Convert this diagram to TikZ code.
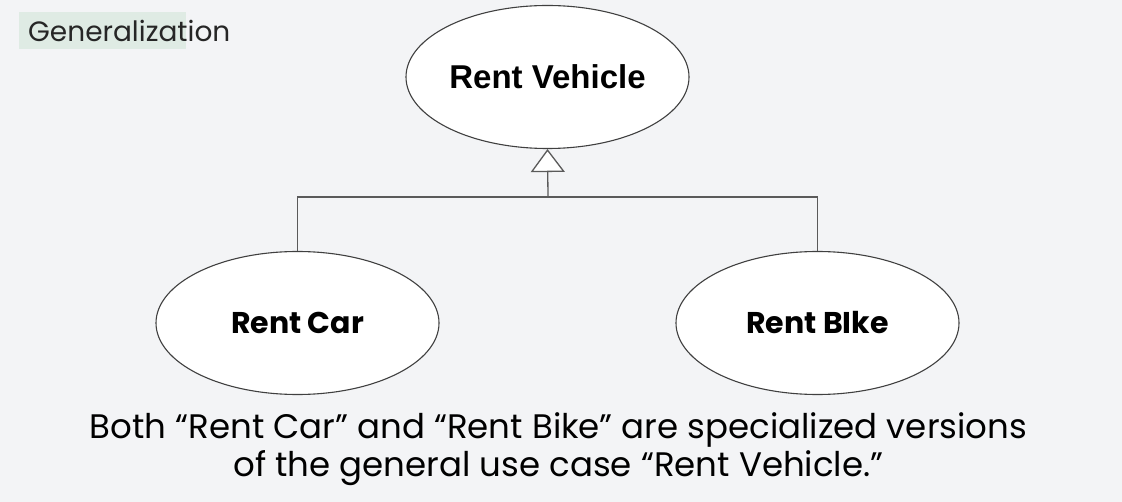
\documentclass[tikz,border=0pt]{standalone}
\usepackage{fontspec}
\setmainfont{Poppins}
\newfontfamily\arialfont{Liberation Sans}
\usetikzlibrary{arrows.meta,shapes.geometric}
\definecolor{bgc}{HTML}{F3F4F6}
\definecolor{tagc}{HTML}{DFEBE4}
\definecolor{linec}{HTML}{5A5A5A}
\tikzset{
  usecase/.style={ellipse, draw=black!75, line width=1.1pt, fill=white, minimum width=283pt, minimum height=143pt, inner sep=0pt},
  conn/.style={draw=linec, line width=1.3pt},
}
\begin{document}
\begin{tikzpicture}[x=1pt,y=-1pt]
\fill[bgc] (0,0) rectangle (1122,502);
\useasboundingbox (0,0) rectangle (1122,502);
\fill[tagc] (19,12) rectangle (186,49);
\node[anchor=west, inner sep=0pt, font=\fontsize{28}{32}\selectfont, text=black!85] (tag) at (28,31) {Generalization};
\node[usecase, font=\arialfont\bfseries\fontsize{33}{38}\selectfont] (veh) at (547.5,77) {Rent Vehicle};
\node[usecase, font=\bfseries\fontsize{30}{34}\selectfont] (car) at (297.5,323) {Rent Car};
\node[usecase, font=\bfseries\fontsize{30}{34}\selectfont] (bike) at (817.5,323) {Rent BIke};
\coordinate (j) at (548,197);
\draw[conn] (car.north) |- (j) -| (bike.north);
\draw[conn, -{Triangle[open, fill=white, width=34pt, length=23pt]}] (j) -- (veh.south);
\node[align=center, font=\fontsize{34}{38}\selectfont, inner sep=0pt] (cap) at (558.5,449) {Both “Rent Car” and “Rent Bike” are specialized versions\\of the general use case “Rent Vehicle.”};
\end{tikzpicture}
\end{document}
